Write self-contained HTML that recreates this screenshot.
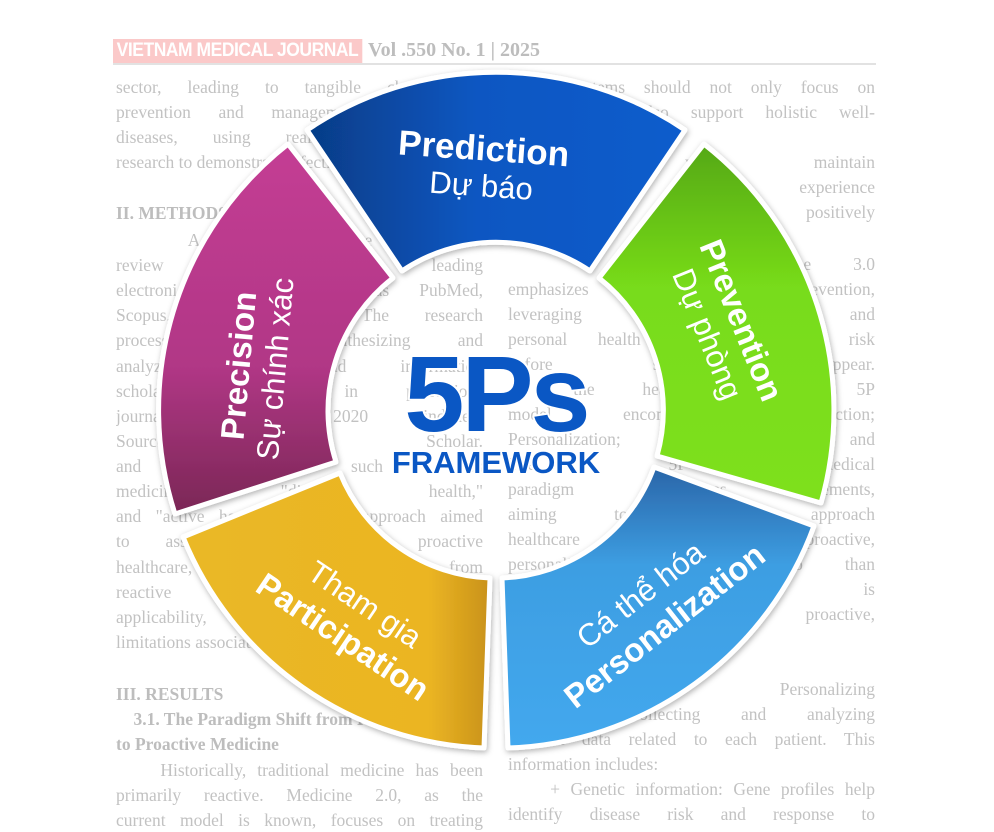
<!DOCTYPE html>
<html><head><meta charset="utf-8"><style>
body{margin:0;width:994px;height:828px;overflow:hidden;background:#fff;position:relative;font-family:"Liberation Serif",serif}
.hd{position:absolute;left:113px;top:39px;height:24px;}
.hd .j{display:inline-block;background:#fbc9c9;color:#fff;font:bold 19px "Liberation Sans",sans-serif;padding:1px 4px;letter-spacing:-0.5px;transform:scaleX(0.92);transform-origin:left}
.hd .v{position:absolute;left:255px;top:0;color:#bdbdbd;font:bold 20px "Liberation Serif",serif;white-space:nowrap}
.rule{position:absolute;left:113px;top:63px;width:763px;height:2px;background:#e2e2e2}
.col{position:absolute;width:367px;color:#c2c2c2;font-size:17.5px}
.col div{position:absolute;left:0;width:367px;text-align:justify;text-align-last:justify;white-space:nowrap;overflow:hidden;height:24px;line-height:24px}
.col div.l{text-align-last:left}
.col b{color:#bdbdbd}
svg{position:absolute;left:0;top:0}
</style></head><body>
<div class="hd"><span class="j">VIETNAM MEDICAL JOURNAL</span><span class="v">Vol .550 No. 1 | 2025</span></div>
<div class="rule"></div>
<div class="col" style="left:116px;top:0">
<div style="top:75px">sector, leading to tangible changes in</div>
<div style="top:100px">prevention and management of chronic</div>
<div style="top:125px">diseases, using real-world data and</div>
<div class="l" style="top:150px">research to demonstrate effectiveness.</div>
<div class="l" style="top:201px"><b>II. METHODS</b></div>
<div style="top:228px">&nbsp;&nbsp;&nbsp;&nbsp;A systematic literature review was</div>
<div style="top:253px">review conducted using leading</div>
<div style="top:278px">electronic databases such as PubMed,</div>
<div style="top:303px">Scopus, and Science. The research</div>
<div style="top:328px">process included synthesizing and</div>
<div style="top:354px">analyzing data and information</div>
<div style="top:379px">scholarly published in prestigious</div>
<div style="top:404px">journals Scopus 2020 indexed,</div>
<div style="top:429px">Sources, Google Scholar.</div>
<div style="top:454px">and terms such as</div>
<div style="top:479px">medicine, "digital health,"</div>
<div style="top:504px">and "active healthcare." This approach aimed</div>
<div style="top:529px">to assess the shift to proactive</div>
<div style="top:555px">healthcare, transition from</div>
<div style="top:580px">reactive to proactive and its</div>
<div style="top:605px">applicability, benefits and</div>
<div class="l" style="top:630px">limitations associated.</div>
<div class="l" style="top:682px"><b>III. RESULTS</b></div>
<div class="l" style="top:707px"><b>&nbsp;&nbsp;&nbsp;&nbsp;3.1. The Paradigm Shift from Reactive</b></div>
<div class="l" style="top:732px"><b>to Proactive Medicine</b></div>
<div style="top:758px">&nbsp;&nbsp;&nbsp;&nbsp;Historically, traditional medicine has been</div>
<div style="top:783px">primarily reactive. Medicine 2.0, as the</div>
<div style="top:808px">current model is known, focuses on treating</div>
</div>
<div class="col" style="left:508px;top:0">
<div style="top:75px">health systems should not only focus on</div>
<div style="top:100px">treatment but also support holistic well-</div>
<div style="top:150px">Individuals who maintain</div>
<div style="top:175px">exercise experience</div>
<div style="top:200px">are positively</div>
<div style="top:252px">&nbsp;&nbsp;&nbsp;&nbsp;The Medicine 3.0</div>
<div style="top:277px">emphasizes prevention,</div>
<div style="top:302px">leveraging biotechnology, and</div>
<div style="top:327px">personal health data to assess risk</div>
<div style="top:352px">before symptoms appear.</div>
<div style="top:377px">At the heart of the 5P</div>
<div style="top:402px">model encompassing: Prediction;</div>
<div style="top:427px">Personalization; Participation and</div>
<div style="top:452px">The 5P medical</div>
<div style="top:477px">paradigm comprises elements,</div>
<div style="top:502px">aiming to transform approach</div>
<div style="top:527px">healthcare towards proactive,</div>
<div style="top:552px">personalized care more so than</div>
<div style="top:577px">the approach is</div>
<div style="top:602px">towards a proactive,</div>
<div style="top:677px">Personalized: Personalizing</div>
<div style="top:702px">information collecting and analyzing</div>
<div style="top:727px">relevant data related to each patient. This</div>
<div class="l" style="top:752px">information includes:</div>
<div style="top:777px">&nbsp;&nbsp;&nbsp;&nbsp;+ Genetic information: Gene profiles help</div>
<div style="top:802px">identify disease risk and response to</div>
</div>
<svg width="994" height="828" viewBox="0 0 994 828">
<defs>
<filter id="sh" x="-20%" y="-20%" width="140%" height="140%"><feDropShadow dx="1" dy="2" stdDeviation="3" flood-color="#000" flood-opacity="0.3"/></filter>
<linearGradient id="gb" x1="0" y1="0" x2="1" y2="0"><stop offset="0" stop-color="#063c86"/><stop offset="0.45" stop-color="#0a57c2"/><stop offset="1" stop-color="#0a5ccc"/></linearGradient>
<linearGradient id="gg" x1="0" y1="0" x2="0" y2="1"><stop offset="0" stop-color="#55a812"/><stop offset="0.4" stop-color="#78dc1a"/><stop offset="1" stop-color="#7ee01a"/></linearGradient>
<linearGradient id="gl" x1="0" y1="0" x2="0" y2="1"><stop offset="0" stop-color="#2a65a8"/><stop offset="0.35" stop-color="#3d9ee2"/><stop offset="1" stop-color="#43a8ee"/></linearGradient>
<linearGradient id="gy" x1="0" y1="0" x2="1" y2="0"><stop offset="0" stop-color="#eab826"/><stop offset="0.8" stop-color="#ebb523"/><stop offset="1" stop-color="#c9921a"/></linearGradient>
<linearGradient id="gp" x1="0" y1="0" x2="0" y2="1"><stop offset="0" stop-color="#c43d94"/><stop offset="0.6" stop-color="#b13786"/><stop offset="1" stop-color="#7a2755"/></linearGradient>
</defs>
<g stroke="#fff" stroke-width="5" stroke-linejoin="round" filter="url(#sh)">
<path d="M307 130 A338 338 0 0 1 685 130 L590 271 A168 168 0 0 0 402 271 Z" fill="url(#gb)"/>
<path d="M704 144 A338 338 0 0 1 821 503 L657 456 A168 168 0 0 0 599 278 Z" fill="url(#gg)"/>
<path d="M814 526 A338 338 0 0 1 508 748 L502 578 A168 168 0 0 0 654 467 Z" fill="url(#gl)"/>
<path d="M484 748 A338 338 0 0 1 183 537 L340 473 A168 168 0 0 0 490 578 Z" fill="url(#gy)"/>
<path d="M175 514 A338 338 0 0 1 288 144 L393 278 A168 168 0 0 0 336 462 Z" fill="url(#gp)"/>
</g>
<g fill="#fff" font-family="Liberation Sans, DejaVu Sans, sans-serif" text-anchor="middle">
<g transform="translate(496,410) rotate(-3) translate(0,-250) rotate(7)">
<text y="0" font-size="35" font-weight="bold">Prediction</text>
<text y="36" font-size="31">Dự báo</text></g>
<g transform="translate(496,410) rotate(70) translate(0,-250) rotate(-2)">
<text y="0" font-size="33" font-weight="bold">Prevention</text>
<text y="36" font-size="31">Dự phòng</text></g>
<g transform="translate(496,410) rotate(-80) translate(0,-250) rotate(-5)">
<text y="0" font-size="33" font-weight="bold">Precision</text>
<text y="36" font-size="31">Sự chính xác</text></g>
<g transform="translate(496,410) rotate(142) translate(0,-245) rotate(180)">
<text y="0" font-size="31">Cá thể hóa</text>
<text y="40" font-size="33" font-weight="bold">Personalization</text></g>
<g transform="translate(496,410) rotate(214) translate(0,-245) rotate(180)">
<text y="0" font-size="31">Tham gia</text>
<text y="40" font-size="33" font-weight="bold">Participation</text></g>
</g>
<g font-family="Liberation Sans, sans-serif" font-weight="bold" text-anchor="middle" fill="#0a57c4" stroke="#fff" stroke-width="4" paint-order="stroke" stroke-linejoin="round">
<text x="496" y="431" font-size="108" letter-spacing="-3">5Ps</text>
<text x="496" y="473" font-size="31">FRAMEWORK</text>
</g>
</svg>
</body></html>
